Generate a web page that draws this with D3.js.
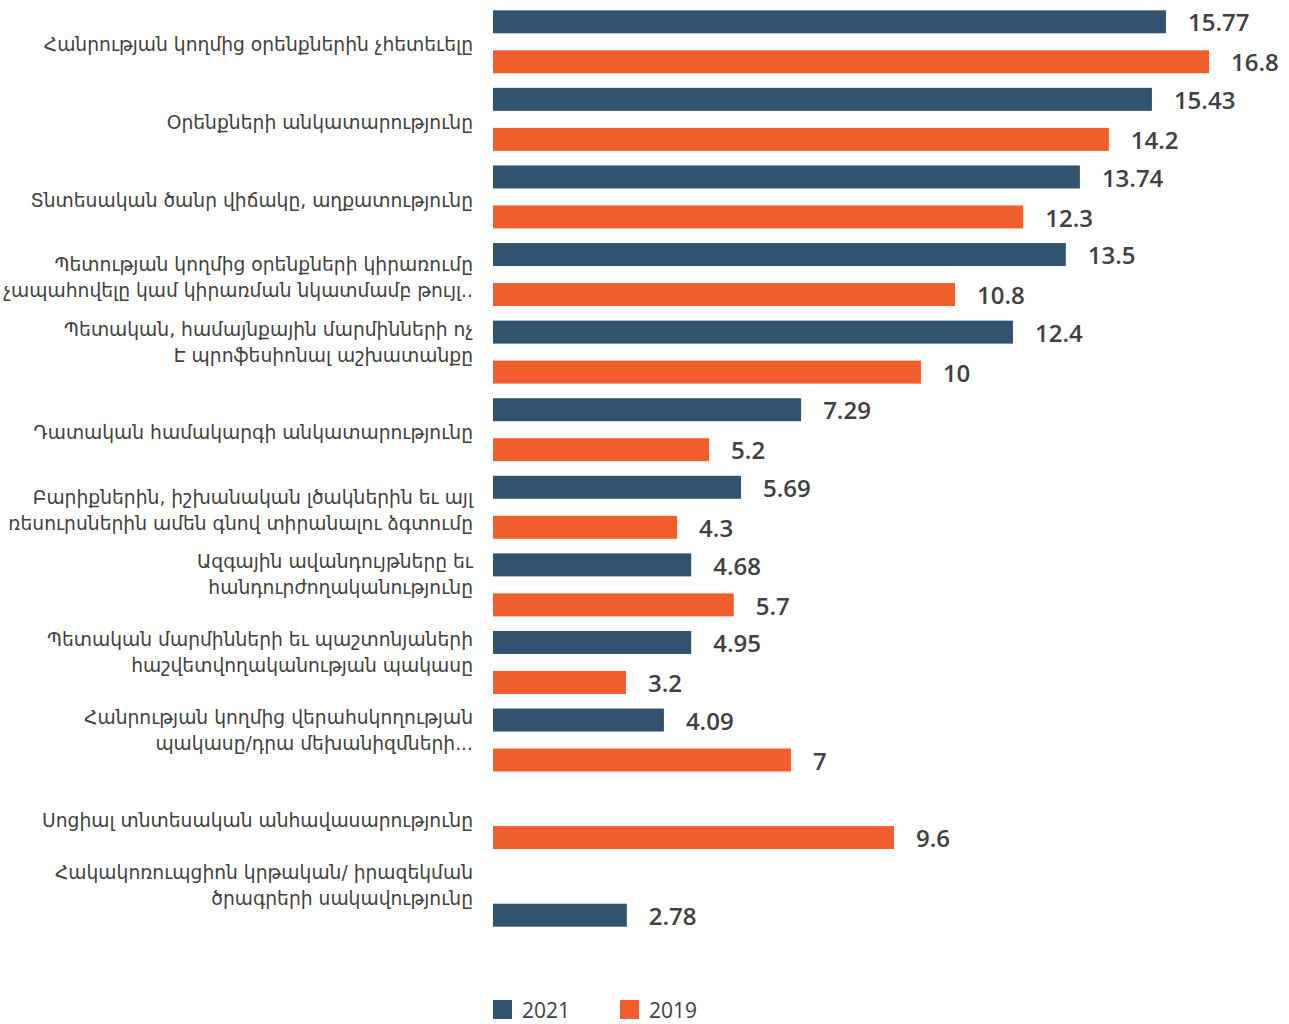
<!DOCTYPE html>
<head>
<meta charset="utf-8">
<script src="https://d3js.org/d3.v7.min.js"></script>
<style>
  body { margin: 0; background: #fff; }
</style>
</head>
<body>
<svg width="1289" height="1024"></svg>
<script>

// category labels, broken into lines as in the picture
// (a trailing "" is the empty third line the original wrap leaves)
let categories = [
  ["Հանրության կողմից օրենքներին չհետեւելը"],
  ["Օրենքների անկատարությունը"],
  ["Տնտեսական ծանր վիճակը, աղքատությունը"],
  ["Պետության կողմից օրենքների կիրառումը", "չապահովելը կամ կիրառման նկատմամբ թույլ.."],
  ["Պետական, համայնքային մարմինների ոչ", "Է պրոֆեսիոնալ աշխատանքը", ""],
  ["Դատական համակարգի անկատարությունը"],
  ["Բարիքներին, իշխանական լծակներին եւ այլ", "ռեսուրսներին ամեն գնով տիրանալու ձգտումը"],
  ["Ազգային ավանդույթները եւ", "հանդուրժողականությունը", ""],
  ["Պետական մարմինների եւ պաշտոնյաների", "հաշվետվողականության պակասը", ""],
  ["Հանրության կողմից վերահսկողության", "պակասը/դրա մեխանիզմների...", ""],
  ["Սոցիալ տնտեսական անհավասարությունը"],
  ["Հակակոռուպցիոն կրթական/ իրազեկման", "ծրագրերի սակավությունը", ""]
];

let seriesNames = ["2021", "2019"];

// bar lengths
let values2021 = [15.79, 15.46, 13.77, 13.44, 12.2, 7.23, 5.82, 4.65, 4.65, 4.01, null, 3.14];
let values2019 = [16.8, 14.45, 12.44, 10.84, 10.04, 5.07, 4.32, 5.65, 3.12, 6.99, 9.41, null];

// the data labels printed next to the bars
let labels2021 = ["15.77", "15.43", "13.74", "13.5", "12.4", "7.29", "5.69", "4.68", "4.95", "4.09", null, "2.78"];
let labels2019 = ["16.8", "14.2", "12.3", "10.8", "10", "5.2", "4.3", "5.7", "3.2", "7", "9.6", null];

let colors = ["#32536f", "#f15e2e"];

let svg = d3.select("svg");

let labelFont = "'DejaVu Sans', sans-serif";
let numFont = "'Open Sans', 'Noto Sans', sans-serif";

// build rows
let rows = [];
categories.forEach(function(c, i) {
  let vals = [values2021[i], values2019[i]];
  let labs = [labels2021[i], labels2019[i]];
  let both = vals[0] != null && vals[1] != null;
  vals.forEach(function(v, s) {
    if (v == null) return;
    // a lone bar sits in the lower slot of its group
    rows.push({ cat: i, series: s, slot: both ? s : 1, value: v, label: labs[s] });
  });
});

let y = d3.scaleBand()
    .domain(d3.range(categories.length))
    .range([3, 934]);

let ySub = d3.scaleBand()
    .domain([0, 1])
    .range([0, y.bandwidth()])
    .paddingInner(0.425)
    .paddingOuter(0.1825);

let x = d3.scaleLinear()
    .domain([0, 18])
    .range([493, 493 + 18 * 42.62]);

let bars = svg.append("g");

bars.selectAll("rect")
  .data(rows)
  .enter().append("rect")
    .attr("x", x(0))
    .attr("y", function(d) { return y(d.cat) + ySub(d.slot); })
    .attr("width", function(d) { return x(d.value) - x(0); })
    .attr("height", ySub.bandwidth())
    .attr("fill", function(d) { return colors[d.series]; });

bars.selectAll("text")
  .data(rows)
  .enter().append("text")
    .attr("x", function(d) { return x(d.value) + 22; })
    .attr("y", function(d) { return y(d.cat) + ySub(d.slot) + ySub.bandwidth() / 2 + 1; })
    .attr("dy", "0.36em")
    .attr("font-family", numFont)
    .attr("font-weight", 600)
    .attr("font-size", 24)
    .attr("fill", "#404040")
    .text(function(d) { return d.label; });

// category labels
let lineH = 26;
let cats = svg.append("g")
    .attr("font-family", labelFont)
    .attr("font-size", 18.7)
    .attr("fill", "#404040")
    .attr("text-anchor", "end");

cats.selectAll("text")
  .data(categories)
  .enter().append("text")
    .attr("x", 473)
    .attr("y", function(d, i) { return y(i) + y.bandwidth() / 2 + 3 - (d.length - 1) * lineH / 2; })
    .each(function(lines) {
      let t = d3.select(this);
      lines.forEach(function(l, k) {
        t.append("tspan")
          .attr("x", 473)
          .attr("dy", k === 0 ? "0.35em" : lineH)
          .text(l);
      });
    });

// legend
let legend = svg.append("g")
    .selectAll("g")
    .data(seriesNames)
    .enter().append("g")
      .attr("transform", function(d, i) { return "translate(" + (493 + i * 127) + ",1000)"; });

legend.append("rect")
    .attr("width", 19)
    .attr("height", 19)
    .attr("fill", function(d, i) { return colors[i]; });

legend.append("text")
    .attr("x", 29)
    .attr("y", 10)
    .attr("dy", "0.36em")
    .attr("font-family", numFont)
    .attr("font-size", 21)
    .attr("fill", "#404040")
    .text(function(d) { return d; });

</script>
</body>
